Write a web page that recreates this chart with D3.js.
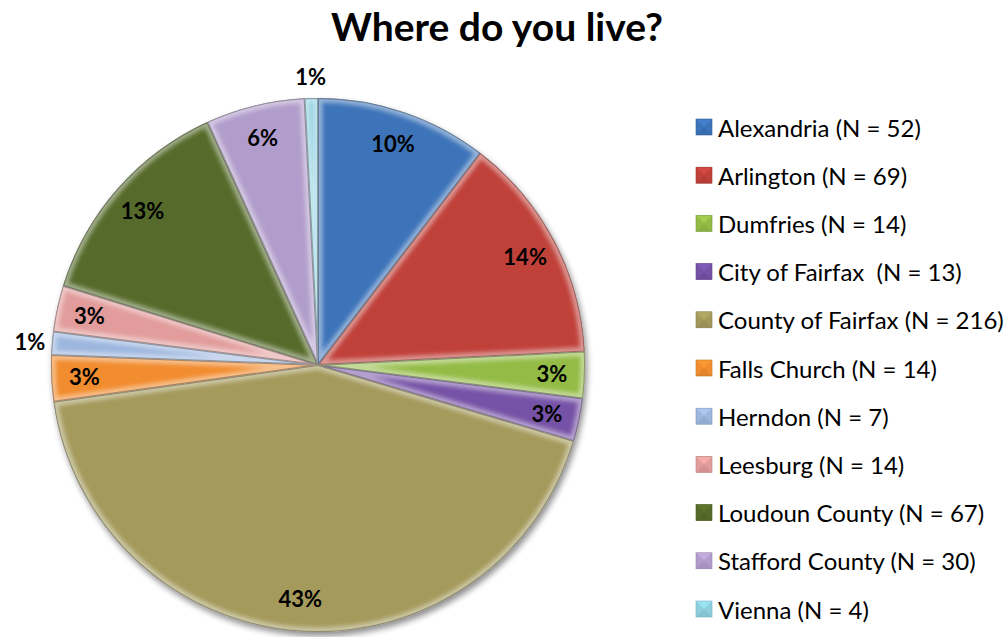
<!DOCTYPE html>
<html>
<head>
<meta charset="utf-8">
<script src="https://cdn.jsdelivr.net/npm/d3@7"></script>
<style>
  html, body { margin: 0; padding: 0; background: #ffffff; }
  svg { display: block; }
  text { font-family: Lato, "Open Sans", "Liberation Sans", sans-serif; }
</style>
</head>
<body>
<svg id="chart" width="1008" height="637"></svg>
<script>
// Survey responses by place of residence
const title = "Where do you live?";
const places = ["Alexandria", "Arlington", "Dumfries", "City of Fairfax ", "County of Fairfax",
                "Falls Church", "Herndon", "Leesburg", "Loudoun County", "Stafford County", "Vienna"];
const counts = [52, 69, 14, 13, 216, 14, 7, 14, 67, 30, 4];
const colors = ["#3d74b9", "#c0413a", "#93bb45", "#7652a6", "#a49a5c",
                "#f18c2f", "#9cb6de", "#e19c9b", "#566b2b", "#b19dcb", "#8ecfdf"];

const svg = d3.select("#chart");
const cx = 318, cy = 365, R = 267;

const total = d3.sum(counts);
const data = places.map((p, i) => ({ name: p, n: counts[i], color: colors[i], i }));

const defs = svg.append("defs");

// soft drop shadow under the pie
const shadow = defs.append("filter").attr("id", "shadow")
  .attr("x", "-10%").attr("y", "-10%").attr("width", "120%").attr("height", "120%");
shadow.append("feGaussianBlur").attr("in", "SourceAlpha").attr("stdDeviation", 3).attr("result", "b");
shadow.append("feOffset").attr("in", "b").attr("dx", 2).attr("dy", 4).attr("result", "o");
shadow.append("feComponentTransfer").attr("in", "o").attr("result", "s")
  .append("feFuncA").attr("type", "linear").attr("slope", 0.45);
const sm = shadow.append("feMerge");
sm.append("feMergeNode").attr("in", "s");
sm.append("feMergeNode").attr("in", "SourceGraphic");

// blur for the bevel rim
defs.append("filter").attr("id", "soft")
  .append("feGaussianBlur").attr("stdDeviation", 2.2);

const pie = d3.pie().sort(null).value(d => d.n);
const arcs = pie(data);
const arc = d3.arc().innerRadius(0).outerRadius(R);

// Title
svg.append("text")
  .attr("x", 497).attr("y", 41)
  .attr("text-anchor", "middle")
  .attr("font-weight", "bold")
  .attr("font-size", 39)
  .attr("fill", "#000")
  .text(title);

const g = svg.append("g").attr("transform", `translate(${cx},${cy})`);

// base disc carrying the shadow
g.append("circle").attr("r", R).attr("fill", "#999").attr("filter", "url(#shadow)");

arcs.forEach((a, k) => {
  const d = arc(a);
  const clipId = "clip" + k;
  defs.append("clipPath").attr("id", clipId).append("path")
    .attr("d", d).attr("transform", `translate(${cx},${cy})`);

  g.append("path").attr("d", d).attr("fill", a.data.color);

  // bevelled rim: light inner glow with a darker edge line
  const rim = svg.append("g").attr("clip-path", `url(#${clipId})`)
    .append("g").attr("transform", `translate(${cx},${cy})`);
  rim.append("path").attr("d", d)
    .attr("fill", "none")
    .attr("stroke", "#ffffff")
    .attr("stroke-opacity", 0.45)
    .attr("stroke-width", 9)
    .attr("stroke-linejoin", "round")
    .attr("filter", "url(#soft)");
  rim.append("path").attr("d", d)
    .attr("fill", "none")
    .attr("stroke", "#000")
    .attr("stroke-opacity", 0.3)
    .attr("stroke-width", 2);
});

// Percentage labels: inside near the rim, tiny slices just outside
const inner = d3.arc().innerRadius(234).outerRadius(234);
const outer = d3.arc().innerRadius(289).outerRadius(289);
arcs.forEach(a => {
  const share = a.data.n / total;
  const pos = share < 0.015 ? outer.centroid(a) : inner.centroid(a);
  svg.append("text")
    .attr("x", cx + pos[0]).attr("y", cy + pos[1])
    .attr("text-anchor", "middle")
    .attr("dominant-baseline", "central")
    .attr("font-weight", "bold")
    .attr("font-size", 22)
    .attr("fill", "#000")
    .text(Math.round(share * 100) + "%");
});

// Legend
const legY = d3.scalePoint().domain(d3.range(places.length)).range([127, 609]);
const lg = svg.append("g");
data.forEach(d => {
  const y = legY(d.i);
  const s = 16, x0 = 696;
  const c = d3.color(d.color);
  const row = lg.append("g");
  row.append("rect").attr("x", x0).attr("y", y - s / 2).attr("width", s).attr("height", s)
    .attr("fill", d.color);
  // pyramid shading of the marker
  const lx = x0, ty = y - s / 2, rx = x0 + s, by = y + s / 2, mx = x0 + s / 2, my = y;
  row.append("path").attr("d", `M${lx},${ty}L${rx},${ty}L${mx},${my}Z`)
    .attr("fill", c.brighter(0.4)).attr("opacity", 0.6);
  row.append("path").attr("d", `M${lx},${by}L${rx},${by}L${mx},${my}Z`)
    .attr("fill", c.darker(0.3)).attr("opacity", 0.6);
  row.append("rect").attr("x", x0).attr("y", y - s / 2).attr("width", s).attr("height", s)
    .attr("fill", "none").attr("stroke", c.darker(0.5)).attr("stroke-width", 0.6);
  row.append("text")
    .attr("x", 718).attr("y", y)
    .attr("dominant-baseline", "central")
    .attr("font-size", 24)
    .attr("fill", "#000")
    .style("white-space", "pre")
    .text(`${d.name} (N = ${d.n})`);
});
</script>
</body>
</html>
